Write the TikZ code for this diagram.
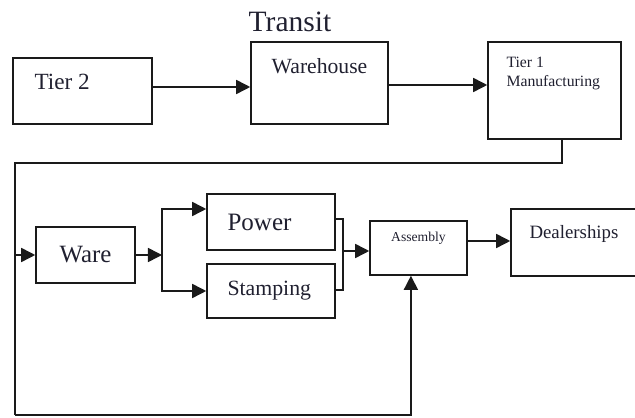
\documentclass[tikz,border=0pt]{standalone}
\usepackage{fontspec}
\setmainfont{Liberation Serif}
\usetikzlibrary{arrows.meta,positioning}
\definecolor{flowink}{HTML}{1A1A1A}
\definecolor{flowtxt}{HTML}{202030}
\tikzset{
  bx/.style={draw=flowink, line width=1.1pt, fill=white, inner sep=0pt},
  txt/.style={inner sep=0pt, text=flowtxt, align=left},
  wire/.style={draw=flowink, line width=1.1pt},
  arr/.style={-{Triangle[length=10pt, width=10pt]}, line width=1.1pt, color=flowink},
}

\begin{document}
\begin{tikzpicture}
    \useasboundingbox (0,0) rectangle (15.875,10.45);
    \node[txt, font=\fontsize{21}{24}\selectfont, anchor=base] (transit) at (7.25,9.65) {Transit};
    % upper row
    \node[bx, minimum width=3.475cm, minimum height=1.65cm] (t2) at (2.0625,8.175) {};
    \node[txt, font=\fontsize{16.5}{18}\selectfont, below right=0.42cm and 0.55cm of t2.north west] (t2txt) {Tier 2};
    \node[bx, minimum width=3.425cm, minimum height=2.05cm] (wh) at (7.9875,8.375) {};
    \node[txt, font=\fontsize{15.4}{18}\selectfont, below=0.42cm of wh.north] (whtxt) {Warehouse};
    \node[bx, minimum width=3.325cm, minimum height=2.425cm] (t1) at (13.8625,8.1875) {};
    \node[txt, font=\fontsize{11.2}{13.5}\selectfont, below right=0.4cm and 0.475cm of t1.north west] (t1txt) {Tier 1\\Manufacturing};
    \draw[arr] ([yshift=0.1cm]t2.east) -- ([yshift=0.1cm]t2.east -| wh.west);
    \draw[arr] ([yshift=-0.05cm]wh.east) -- ([yshift=-0.05cm]wh.east -| t1.west);
    % lower row
    \node[bx, minimum width=2.475cm, minimum height=1.4cm, font=\fontsize{17.7}{20}\selectfont, text=flowtxt] (wa) at (2.1375,4.075) {Ware};
    \node[bx, minimum width=3.2cm, minimum height=1.4cm] (pw) at (6.775,4.9) {};
    \node[txt, font=\fontsize{17.8}{20}\selectfont, right=0.525cm of pw.west] (pwtxt) {Power};
    \node[bx, minimum width=3.2cm, minimum height=1.35cm] (st) at (6.775,3.175) {};
    \node[txt, font=\fontsize{15.5}{18}\selectfont, right=0.525cm of st.west] (sttxt) {Stamping};
    \node[bx, minimum width=2.425cm, minimum height=1.35cm] (as) at (10.4625,4.25) {};
    \node[txt, font=\fontsize{9.7}{12}\selectfont, below=0.3cm of as.north] (astxt) {Assembly};
    \node[bx, minimum width=3.725cm, minimum height=1.675cm] (dl) at (14.6375,4.3875) {};
    \node[txt, font=\fontsize{13.4}{16}\selectfont, below right=0.43cm and 0.475cm of dl.north west] (dltxt) {Dealerships};
    % joints
    \coordinate (fbtop) at (0.375,6.375);
    \coordinate (fbbot) at (0.375,0.075);
    \coordinate (jn) at (4.05,4.075);
    \coordinate (mg) at (8.575,4.175);
    \draw[wire] ([xshift=0.19cm]t1.south) |- (fbtop) -- (fbbot);
    \draw[arr] (fbbot) -| ([xshift=-0.19cm]as.south);
    \draw[arr] (fbtop |- wa.west) -- (wa.west);
    \draw[arr] (wa) -- (jn);
    \draw[arr] (jn) |- ([yshift=0.325cm]pw.west);
    \draw[arr] (jn) |- (st.west);
    \draw[wire] ([yshift=0.075cm]pw.east) -| (mg) |- ([yshift=0.025cm]st.east);
    \draw[arr] (mg) -- (mg -| as.west);
    \draw[arr] ([yshift=0.175cm]as.east) -- ([yshift=0.175cm]as.east -| dl.west);
  \end{tikzpicture}
\end{document}
